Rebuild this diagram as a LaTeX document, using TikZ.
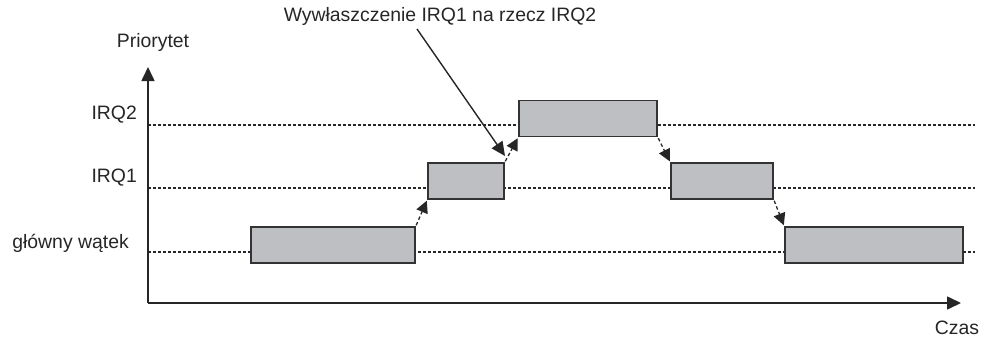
\documentclass[tikz,border=0pt]{standalone}
\usepackage{fontspec}
\setmainfont{Liberation Sans}
\usetikzlibrary{arrows.meta}
\begin{document}
\begin{tikzpicture}[x=1pt,y=-1pt,
  lbl/.style={font=\fontsize{19.4}{22}\selectfont, text=black!85, inner sep=0pt},
  task/.style={draw=black!80, line width=1.6pt, fill=boxgray, minimum width=#1, minimum height=36pt, inner sep=0pt},
  level/.style={draw=black!85, line width=1.1pt, dash pattern=on 3pt off 2pt},
  axis/.style={draw=black!85, line width=1.6pt, -{Triangle[length=14pt,width=13pt]}},
  sw/.style={draw=black!85, line width=1.3pt, dash pattern=on 3.5pt off 2.5pt, -{Triangle[length=12pt,width=12pt]}, shorten <=1pt, shorten >=1pt},
  note/.style={draw=black!85, line width=1.4pt, -{Triangle[length=14pt,width=13pt]}}
]
\definecolor{boxgray}{HTML}{BEBFC3}
\useasboundingbox (0,0) rectangle (988,340);
% axes
\coordinate (o) at (148,303);
\coordinate (ytop) at (148,67);
\coordinate (xend) at (961,303);
% level lines
\coordinate (l2a) at (148,125); \coordinate (l2b) at (975,125);
\coordinate (l1a) at (148,188); \coordinate (l1b) at (975,188);
\coordinate (l0a) at (148,252); \coordinate (l0b) at (975,252);
\draw[level] (l2a) -- (l2b);
\draw[level] (l1a) -- (l1b);
\draw[level] (l0a) -- (l0b);
\draw[axis] (o) -- (ytop);
\draw[axis] (o) -- (xend);
% boxes
\node[task=164pt] (m1) at (333,245) {};
\node[task=76pt] (i1) at (466,181) {};
\node[task=138pt] (i2) at (588,118.5) {};
\node[task=102pt] (i1b) at (722,181) {};
\node[task=178pt] (m2) at (874,245) {};
% switches
\draw[sw] (m1.north east) -- (i1.south west);
\draw[sw] (i1.north east) -- (i2.south west);
\draw[sw] (i2.south east) -- (i1b.north west);
\draw[sw] (i1b.south east) -- (m2.north west);
% labels
\node[lbl] (py) at (153,42) {Priorytet};
\node[lbl, anchor=east] (lq2) at (137,115) {IRQ2};
\node[lbl, anchor=east] (lq1) at (137,178) {IRQ1};
\node[lbl, anchor=east] (lm) at (129,243) {główny wątek};
\node[lbl] (cz) at (957,328) {Czas};
\node[lbl] (title) at (440,16) {Wywłaszczenie IRQ1 na rzecz IRQ2};
\coordinate (ns) at (417,29);
\coordinate (ne) at (505,156);
\draw[note] (ns) -- (ne);
\end{tikzpicture}
\end{document}
